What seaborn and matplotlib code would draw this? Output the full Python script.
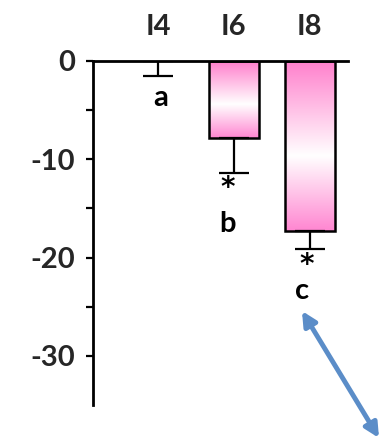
import numpy as np
import pandas as pd
import matplotlib
matplotlib.use("Agg")
import matplotlib.pyplot as plt
from matplotlib.colors import LinearSegmentedColormap
import seaborn as sns

# Group labels, mean change and one-sided error (SE)
groups = ["I4", "I6", "I8"]
means = [0.0, -7.8, -17.3]
errors = [1.5, 3.6, 1.8]

# Significance letters and asterisks under each bar
letters = ["a", "b", "c"]
letter_x = [0.03, 0.91, 1.9]
letter_y = [-4.6, -17.4, -24.2]
stars = ["", "*", "*"]
star_x = [None, 0.92, 1.96]
star_y = [None, -12.9, -20.8]

y_ticks = [0, -10, -20, -30]

sns.set_theme(style="white")
plt.rcParams["font.family"] = ["Lato", "DejaVu Sans"]
plt.rcParams["font.weight"] = "bold"

df = pd.DataFrame({"group": groups, "value": means})

fig = plt.figure(figsize=(3.81, 4.42), dpi=100)
ax = fig.add_axes([0.244, 0.0837, 0.669, 0.7783])

sns.barplot(data=df, x="group", y="value", order=groups, ax=ax,
            width=0.66, color="white", edgecolor="black", linewidth=1.8,
            errorbar=None, zorder=2)

# pink-white-pink vertical gradient inside each bar
cmap = LinearSegmentedColormap.from_list(
    "pinkfade", [(0.0, "#FF7FCC"), (0.56, "#FFFFFF"), (1.0, "#FF86D1")])
grad = np.linspace(0, 1, 256).reshape(-1, 1)
for patch, m in zip(ax.patches, means):
    if m == 0:
        patch.set_visible(False)
        continue
    patch.set_facecolor("none")
    x0 = patch.get_x()
    w = patch.get_width()
    y0 = patch.get_y()
    h = patch.get_height()
    ybot, ytop = min(y0, y0 + h), max(y0, y0 + h)
    ax.imshow(grad, cmap=cmap, aspect="auto", origin="upper",
              extent=[x0, x0 + w, ybot, ytop], zorder=1.5,
              interpolation="bilinear")

ax.set_xlim(-0.855, 2.5)
ax.set_ylim(-35, 0)

# one-sided error bars hanging below each bar
x_pos = np.arange(len(groups))
ax.errorbar(x_pos, means, yerr=[errors, [0] * len(errors)], fmt="none",
            ecolor="black", elinewidth=1.6, capsize=11, capthick=1.6, zorder=3)

for lx, lab, ly in zip(letter_x, letters, letter_y):
    ax.text(lx, ly, lab, ha="center", va="baseline",
            fontsize=21, fontweight="bold", color="black")
for sx, st, sy in zip(star_x, stars, star_y):
    if st:
        ax.text(sx, sy, st, ha="center", va="center",
                fontsize=20, fontweight="bold", color="black",
                family="DejaVu Sans")

# axes styling
ax.set_xlabel("")
ax.set_ylabel("")
ax.xaxis.tick_top()
ax.tick_params(axis="x", length=0, pad=15, labelsize=21)
tick_pos = np.arange(0, -31, -5)
ax.set_yticks(tick_pos)
ax.set_yticklabels([str(t) if t in y_ticks else "" for t in tick_pos])
ax.tick_params(axis="y", direction="out", length=5, width=1.6, color="black",
               left=True, labelsize=21, pad=8)

for side in ["right", "bottom"]:
    ax.spines[side].set_visible(False)
for side in ["left", "top"]:
    ax.spines[side].set_visible(True)
    ax.spines[side].set_color("black")
    ax.spines[side].set_linewidth(2)
ax.spines["top"].set_position(("data", 0))

# double-headed blue arrow
ax.annotate("", xy=(302 / 381, 1 - 311 / 442), xytext=(379 / 381, 1 - 438 / 442),
            xycoords="figure fraction", textcoords="figure fraction",
            annotation_clip=False,
            arrowprops=dict(arrowstyle="<|-|>,head_length=0.7,head_width=0.35",
                            color="#5B8DC8", lw=3.5, shrinkA=0, shrinkB=0))

fig.savefig("out.png", dpi=100)
